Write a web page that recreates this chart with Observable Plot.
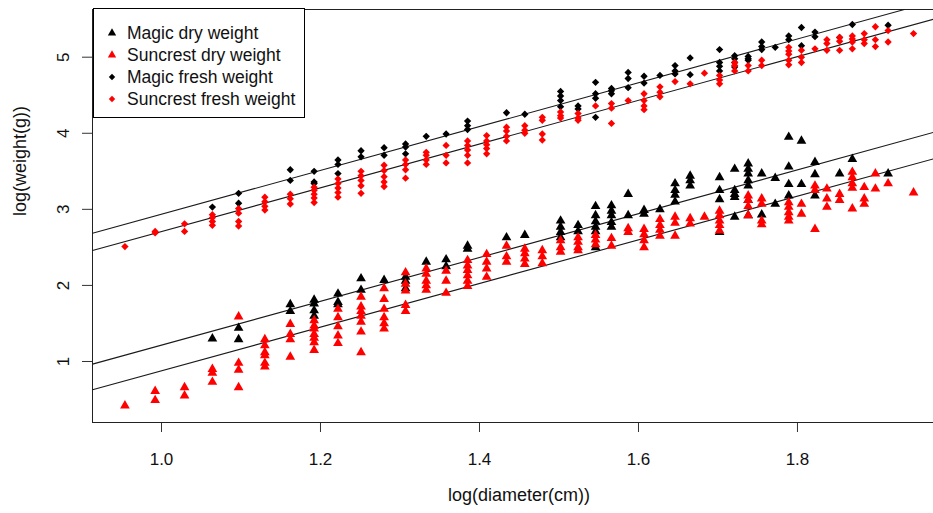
<!DOCTYPE html>
<html><head><meta charset="utf-8">
<script src="https://cdn.jsdelivr.net/npm/d3@7"></script>
<script src="https://cdn.jsdelivr.net/npm/@observablehq/plot@0.6"></script>
<style>
body{margin:0;background:#fff;}
#wrap{position:relative;width:933px;height:513px;font-family:"Liberation Sans",Arial,sans-serif;overflow:hidden;}
#legend{position:absolute;left:93px;top:8px;width:212px;height:110px;border:1px solid #000;background:#fff;box-sizing:border-box;}
.li{position:absolute;left:0;height:22px;width:210px;}
.li svg{position:absolute;left:11px;top:4px;}
.li span{position:absolute;left:33px;top:1px;font-size:17.5px;line-height:20px;color:#111;white-space:nowrap;}
</style></head><body><div id="wrap"></div>
<script>
// ---- data: [log10 diameter (cm), log10 weight (g)] ----
const magicDry = [
 [1.064,1.30],[1.097,1.44],[1.097,1.29],[1.162,1.75],[1.162,1.66],
 [1.192,1.81],[1.192,1.76],[1.192,1.67],[1.192,1.60],[1.222,1.89],[1.222,1.78],[1.222,1.75],
 [1.251,2.09],[1.251,1.94],[1.280,2.07],[1.307,2.11],[1.307,2.06],[1.307,1.96],[1.333,2.31],
 [1.358,2.34],[1.358,2.25],[1.385,2.52],[1.385,2.48],[1.434,2.63],[1.457,2.66],
 [1.502,2.85],[1.502,2.77],[1.502,2.70],[1.502,2.63],[1.524,2.79],[1.524,2.71],
 [1.546,3.04],[1.546,2.92],[1.546,2.84],[1.546,2.77],[1.546,2.71],[1.546,2.50],
 [1.566,3.05],[1.566,2.98],[1.566,2.92],[1.566,2.83],[1.566,2.77],[1.587,3.20],[1.587,2.92],
 [1.607,2.99],[1.607,2.94],[1.627,3.00],[1.646,3.34],[1.646,3.25],[1.646,3.19],[1.646,3.10],
 [1.665,3.44],[1.665,3.38],[1.665,3.31],[1.702,3.42],[1.702,3.25],[1.702,3.13],[1.702,2.70],
 [1.721,3.53],[1.721,3.25],[1.721,3.20],[1.721,3.16],[1.721,2.90],
 [1.738,3.60],[1.738,3.53],[1.738,3.47],[1.738,3.38],[1.738,3.31],[1.738,3.12],[1.738,2.92],
 [1.755,3.47],[1.755,2.93],[1.772,3.41],[1.772,3.07],[1.789,3.95],[1.789,3.56],[1.789,3.33],[1.789,3.18],
 [1.805,3.90],[1.805,3.33],[1.822,3.62],[1.822,3.46],[1.822,3.18],[1.853,3.47],[1.869,3.66],[1.914,3.47]
];
const suncrestDry = [
 [0.954,0.42],[0.992,0.61],[0.992,0.49],[1.029,0.66],[1.029,0.55],
 [1.064,0.90],[1.064,0.85],[1.064,0.73],[1.097,1.59],[1.097,0.98],[1.097,0.89],[1.097,0.66],
 [1.130,1.29],[1.130,1.21],[1.130,1.12],[1.130,1.08],[1.130,0.98],[1.130,0.93],
 [1.162,1.49],[1.162,1.36],[1.162,1.29],[1.162,1.06],
 [1.192,1.54],[1.192,1.47],[1.192,1.43],[1.192,1.36],[1.192,1.31],[1.192,1.25],[1.192,1.15],
 [1.222,1.69],[1.222,1.58],[1.222,1.46],[1.222,1.34],[1.222,1.24],
 [1.251,1.85],[1.251,1.72],[1.251,1.66],[1.251,1.60],[1.251,1.52],[1.251,1.39],[1.251,1.12],
 [1.280,1.96],[1.280,1.82],[1.280,1.69],[1.280,1.58],[1.280,1.50],[1.280,1.43],
 [1.307,2.17],[1.307,2.02],[1.307,1.93],[1.307,1.74],[1.307,1.66],
 [1.333,2.22],[1.333,2.15],[1.333,2.06],[1.333,2.00],[1.333,1.94],
 [1.358,2.19],[1.358,2.06],[1.358,1.90],
 [1.385,2.33],[1.385,2.26],[1.385,2.20],[1.385,2.13],[1.385,2.06],[1.385,1.99],
 [1.409,2.41],[1.409,2.31],[1.409,2.22],[1.409,2.11],[1.434,2.52],[1.434,2.38],[1.434,2.31],
 [1.457,2.48],[1.457,2.42],[1.457,2.35],[1.457,2.28],[1.479,2.46],[1.479,2.38],[1.479,2.29],
 [1.502,2.59],[1.502,2.50],[1.502,2.44],[1.524,2.63],[1.524,2.57],[1.524,2.50],[1.524,2.46],
 [1.546,2.66],[1.546,2.60],[1.546,2.54],[1.566,2.62],[1.566,2.52],[1.587,2.75],[1.587,2.70],
 [1.607,2.74],[1.607,2.67],[1.607,2.59],[1.607,2.50],[1.627,2.87],[1.627,2.79],[1.627,2.73],[1.627,2.65],
 [1.646,2.90],[1.646,2.82],[1.646,2.65],[1.665,2.88],[1.665,2.81],[1.683,2.90],
 [1.702,2.98],[1.702,2.92],[1.702,2.85],[1.702,2.79],[1.702,2.72],
 [1.738,3.18],[1.738,3.12],[1.738,3.04],[1.738,2.92],[1.755,3.14],[1.755,3.07],[1.755,2.85],[1.755,2.80],
 [1.789,3.09],[1.789,3.03],[1.789,2.96],[1.789,2.90],[1.789,2.85],[1.805,3.07],[1.805,2.94],
 [1.822,3.31],[1.822,3.25],[1.822,2.74],[1.837,3.27],[1.837,3.14],[1.837,3.03],[1.853,3.20],[1.853,3.12],
 [1.869,3.49],[1.869,3.42],[1.869,3.34],[1.869,3.28],[1.869,3.01],[1.884,3.29],[1.884,3.14],[1.884,3.07],
 [1.898,3.47],[1.898,3.27],[1.914,3.34],[1.946,3.22]
];
const magicFresh = [
 [1.064,3.03],[1.097,3.21],[1.097,3.08],[1.162,3.52],[1.162,3.38],[1.192,3.50],[1.192,3.36],[1.192,3.34],
 [1.222,3.65],[1.222,3.59],[1.222,3.47],[1.251,3.77],[1.251,3.69],[1.280,3.81],[1.280,3.71],
 [1.307,3.86],[1.307,3.82],[1.307,3.73],[1.333,3.96],[1.358,3.99],[1.385,4.16],[1.385,4.10],[1.385,4.05],
 [1.434,4.27],[1.457,4.25],[1.502,4.55],[1.502,4.49],[1.502,4.43],[1.502,4.35],[1.524,4.36],[1.524,4.32],
 [1.546,4.67],[1.546,4.52],[1.546,4.46],[1.546,4.21],[1.566,4.59],[1.566,4.56],[1.566,4.52],
 [1.587,4.80],[1.587,4.72],[1.587,4.60],[1.607,4.75],[1.607,4.66],[1.627,4.76],
 [1.646,4.89],[1.646,4.82],[1.646,4.78],[1.665,4.99],[1.665,4.77],
 [1.702,5.10],[1.702,4.93],[1.702,4.88],[1.702,4.82],[1.721,5.02],[1.721,4.98],[1.721,4.93],[1.721,4.87],
 [1.738,5.01],[1.738,4.98],[1.738,4.96],[1.755,5.20],[1.755,5.14],[1.755,5.10],[1.772,5.13],
 [1.789,5.28],[1.789,5.23],[1.805,5.39],[1.805,5.15],[1.822,5.33],[1.822,5.27],[1.853,5.26],[1.869,5.43],[1.914,5.42]
];
const suncrestFresh = [
 [0.954,2.51],[0.992,2.71],[0.992,2.69],[1.029,2.81],[1.029,2.71],
 [1.064,2.93],[1.064,2.89],[1.064,2.84],[1.064,2.79],[1.097,3.01],[1.097,2.95],[1.097,2.84],[1.097,2.78],
 [1.130,3.16],[1.130,3.10],[1.130,3.04],[1.130,2.99],[1.162,3.20],[1.162,3.14],[1.162,3.07],
 [1.192,3.29],[1.192,3.25],[1.192,3.20],[1.192,3.15],[1.192,3.09],
 [1.222,3.40],[1.222,3.34],[1.222,3.28],[1.222,3.22],[1.222,3.16],
 [1.251,3.50],[1.251,3.44],[1.251,3.38],[1.251,3.31],[1.251,3.21],
 [1.280,3.58],[1.280,3.51],[1.280,3.43],[1.280,3.36],[1.280,3.30],
 [1.307,3.65],[1.307,3.59],[1.307,3.52],[1.307,3.41],[1.333,3.75],[1.333,3.71],[1.333,3.65],[1.333,3.59],
 [1.358,3.84],[1.358,3.71],[1.358,3.61],[1.385,3.90],[1.385,3.84],[1.385,3.78],[1.385,3.71],[1.385,3.61],
 [1.409,3.97],[1.409,3.90],[1.409,3.85],[1.409,3.80],[1.409,3.73],[1.434,4.08],[1.434,4.03],[1.434,3.96],[1.434,3.90],
 [1.457,4.10],[1.457,4.04],[1.457,4.00],[1.479,4.21],[1.479,4.17],[1.479,3.99],[1.479,3.91],
 [1.502,4.28],[1.502,4.23],[1.502,4.20],[1.524,4.26],[1.524,4.20],[1.524,4.17],[1.546,4.36],
 [1.566,4.39],[1.566,4.33],[1.566,4.13],[1.587,4.43],[1.607,4.52],[1.607,4.43],[1.607,4.36],[1.607,4.31],
 [1.627,4.61],[1.627,4.54],[1.627,4.48],[1.646,4.68],[1.665,4.65],[1.683,4.79],
 [1.702,4.76],[1.702,4.70],[1.702,4.65],[1.721,4.93],[1.721,4.89],[1.721,4.82],[1.738,4.89],[1.738,4.82],
 [1.755,4.96],[1.755,4.89],[1.789,5.13],[1.789,5.08],[1.789,5.04],[1.789,4.96],[1.789,4.90],
 [1.805,5.09],[1.805,5.00],[1.805,4.93],[1.822,5.11],[1.837,5.23],[1.837,5.18],[1.837,5.09],
 [1.853,5.26],[1.853,5.21],[1.853,5.09],[1.869,5.28],[1.869,5.24],[1.869,5.20],[1.869,5.11],
 [1.884,5.31],[1.884,5.23],[1.884,5.18],[1.898,5.40],[1.898,5.23],[1.898,5.14],[1.914,5.35],[1.914,5.20],[1.946,5.31]
];
// fitted regression lines (intercept, slope)
const fitNames = ["Magic dry", "Suncrest dry", "Magic fresh", "Suncrest fresh"];
const fitIntercepts = [-1.665, -1.993, 0.056, -0.167];
const fitSlopes = [2.88, 2.87, 2.88, 2.875];
const legendLabels = ["Magic dry weight", "Suncrest dry weight", "Magic fresh weight", "Suncrest fresh weight"];
const xTicks = [1.0, 1.2, 1.4, 1.6, 1.8];
const yTicks = [1, 2, 3, 4, 5];
const xTitle = "log(diameter(cm))";
const yTitle = "log(weight(g))";

// ---- styles ----
const colors = ["#000000", "#ff0000", "#000000", "#ff0000"];
const shapes = ["triangle", "triangle", "diamond2", "diamond2"];
const xDomain = [0.9132, 1.9711];
const yDomain = [0.198, 5.627];

const lineData = [];
fitNames.forEach((n, i) => {
  const a = fitIntercepts[i], b = fitSlopes[i];
  let x0 = xDomain[0], x1 = xDomain[1];
  const yAt = x => a + b * x;
  if (yAt(x0) < yDomain[0]) x0 = (yDomain[0] - a) / b;
  if (yAt(x1) > yDomain[1]) x1 = (yDomain[1] - a) / b;
  lineData.push({fit: n, x: x0, y: yAt(x0)}, {fit: n, x: x1, y: yAt(x1)});
});

const series = [magicDry, suncrestDry, magicFresh, suncrestFresh];
const radii = [3.6, 3.6, 3.3, 3.3];

const plot = Plot.plot({
  width: 933, height: 513,
  marginLeft: 92, marginRight: 0, marginTop: 9, marginBottom: 91,
  x: {domain: xDomain},
  y: {domain: yDomain},
  style: {fontFamily: "'Liberation Sans', Arial, sans-serif", fontSize: "17px", color: "#111", background: "#fff", overflow: "visible"},
  marks: [
    Plot.axisX({ticks: xTicks, tickSize: 10, tickPadding: 20, tickFormat: d => d.toFixed(1), label: null, fontSize: 17, stroke: "#333"}),
    Plot.axisY({ticks: yTicks, tickSize: 10, tickPadding: 14, tickRotate: -90, tickFormat: d => String(d), label: null, fontSize: 17, stroke: "#333"}),
    Plot.ruleX([xDomain[0]], {stroke: "#222"}),
    Plot.ruleY([yDomain[0]], {stroke: "#222"}),
    Plot.ruleY([yDomain[1]], {stroke: "#222"}),
    Plot.line(lineData, {x: "x", y: "y", z: "fit", stroke: "#1a1a1a", strokeWidth: 1.1}),
    ...series.map((s, i) => Plot.dot(s, {x: d => d[0], y: d => d[1], symbol: shapes[i], r: radii[i], fill: colors[i], stroke: "none"})),
    Plot.text([xTitle], {frameAnchor: "bottom", dy: 78, dx: 6, fontSize: 18, fill: "#111"}),
    Plot.text([yTitle], {frameAnchor: "left", dx: -72, rotate: -90, fontSize: 18, fill: "#111"})
  ]
});

const wrap = document.getElementById("wrap");
wrap.appendChild(plot);

// legend (HTML overlay inside plot box)
const legend = document.createElement("div");
legend.id = "legend";
const symSvg = (shape, color) => shape === "triangle"
  ? `<svg width="14" height="14" viewBox="-7 -7 14 14"><path d="${d3.symbol(d3.symbolTriangle, 30)()}" fill="${color}"/></svg>`
  : `<svg width="14" height="14" viewBox="-7 -7 14 14"><path d="${d3.symbol(d3.symbolDiamond2, 26)()}" fill="${color}"/></svg>`;
legendLabels.forEach((lab, i) => {
  const row = document.createElement("div");
  row.className = "li";
  row.style.top = (13 + i * 22) + "px";
  row.innerHTML = symSvg(shapes[i], colors[i]) + `<span>${lab}</span>`;
  legend.appendChild(row);
});
wrap.appendChild(legend);
</script>
</body></html>
